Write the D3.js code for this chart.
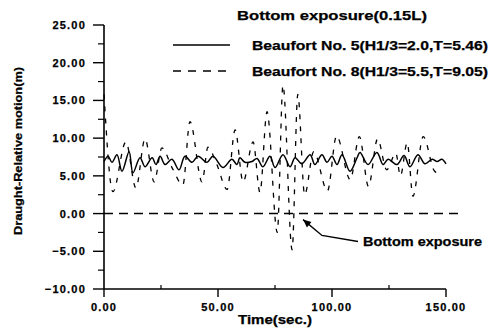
<!DOCTYPE html>
<html>
<head>
<meta charset="utf-8">
<script src="https://cdn.jsdelivr.net/npm/d3@7"></script>
<style>
  body { margin: 0; background: #fff; }
  svg text { font-family: "Liberation Sans", Arial, sans-serif; font-weight: bold; fill: #000; stroke: #000; stroke-width: 0.25; }
</style>
</head>
<body>
<svg width="501" height="330"></svg>
<script>
// series (time in sec, value in m)
var solidT = [0, 1.8, 3.5, 5.7, 7.9, 11.0, 12.7, 15.8, 18.0, 21.1, 22.8, 24.6, 26.8, 29.8, 32.9, 35.5,
  38.6, 41.2, 45.2, 47.8, 52.2, 56.1, 58.3, 59.6, 61.8, 64.9, 67.1, 69.7, 72.8, 75.0, 78.5, 81.6,
  83.8, 86.8, 90.4, 92.5, 95.6, 97.8, 100.0, 102.2, 104.4, 107.9, 111.0, 112.3, 115.8, 119.7, 122.4,
  124.6, 128.5, 131.6, 134.2, 137.7, 140.8, 143.9, 146.1, 148.2, 150.0];
var solidV = [6.9, 7.6, 6.8, 7.8, 5.6, 8.2, 5.4, 7.4, 6.2, 7.4, 6.5, 7.6, 6.5, 7.2, 5.8, 7.6,
  6.8, 7.6, 6.8, 7.6, 6.1, 7.2, 6.5, 7.4, 6.8, 6.9, 7.3, 6.2, 7.6, 6.1, 7.8, 6.2,
  7.4, 6.6, 7.8, 6.5, 7.8, 6.8, 7.6, 6.5, 7.8, 5.6, 7.4, 8.1, 6.5, 8.1, 6.5,
  7.2, 6.5, 7.7, 6.2, 7.8, 6.6, 7.2, 6.9, 7.2, 6.6];

var dashT = [0, 3.9, 9.6, 14, 18, 22, 25.4, 30, 34.6, 37.7, 43, 45.6, 49.5, 54, 57.5, 61, 65.4,
  68.4, 71.5, 76, 78.5, 82.5, 85, 88, 92, 98, 102, 108, 112, 116, 120, 124, 128, 130, 133, 135.5,
  140, 145, 148];
var dashV = [15.8, 2.9, 9.5, 3.4, 9.9, 4.2, 8.7, 6.0, 3.8, 12.2, 4.2, 8.8, 6.5, 3.2, 11.1, 4.2, 9.5,
  2.8, 13.5, -2.5, 17.0, -4.8, 15.8, 2.5, 8.2, 3.0, 10.3, 4.5, 10.2, 3.6, 9.9, 5.8, 8.0, 5.0, 9.4, 2.3,
  10.2, 5.6, 5.2];

// bottom exposure reference line and arrow
var exposureT = [0, 157.5];
var exposureV = [0, 0];
var arrowT = [111.4, 95.6, 87.3];
var arrowV = [-3.7, -2.9, -0.8];

var xTicks = [0, 50, 100, 150];
var xMinor = [25, 75, 125];
var yTicks = [-10, -5, 0, 5, 10, 15, 20, 25];
var yMinor = [-7.5, -2.5, 2.5, 7.5, 12.5, 17.5, 22.5];

var titleText = "Bottom exposure(0.15L)";
var legendNames = ["Beaufort No. 5(H1/3=2.0,T=5.46)", "Beaufort No. 8(H1/3=5.5,T=9.05)"];

var svg = d3.select("svg");

var x = d3.scaleLinear().domain([0, 150]).range([104, 446]);
var y = d3.scaleLinear().domain([-10, 25]).range([289, 25]);
var fmt = d3.format(".2f");

// axes
svg.append("line").attr("x1", 104).attr("x2", 104).attr("y1", y(25)).attr("y2", y(-10))
  .attr("stroke", "#000").attr("stroke-width", 1.6);
svg.append("line").attr("x1", x(0)).attr("x2", x(150)).attr("y1", 289).attr("y2", 289)
  .attr("stroke", "#000").attr("stroke-width", 1.6);

svg.selectAll(".ytick").data(yTicks).enter().append("line")
  .attr("x1", 93).attr("x2", 104).attr("y1", y).attr("y2", y)
  .attr("stroke", "#000").attr("stroke-width", 1.4);
svg.selectAll(".yminor").data(yMinor).enter().append("line")
  .attr("x1", 98).attr("x2", 104).attr("y1", y).attr("y2", y)
  .attr("stroke", "#000").attr("stroke-width", 1.2);
svg.selectAll(".ylab").data(yTicks).enter().append("text")
  .attr("x", 86).attr("y", function(d) { return y(d) + 4; })
  .attr("text-anchor", "end").attr("font-size", 11).attr("letter-spacing", 1.2)
  .text(fmt);

svg.selectAll(".xtick").data(xTicks).enter().append("line")
  .attr("x1", x).attr("x2", x).attr("y1", 289).attr("y2", 297)
  .attr("stroke", "#000").attr("stroke-width", 1.4);
svg.selectAll(".xminor").data(xMinor).enter().append("line")
  .attr("x1", x).attr("x2", x).attr("y1", 285).attr("y2", 289)
  .attr("stroke", "#000").attr("stroke-width", 1.2);
svg.selectAll(".xlab").data(xTicks).enter().append("text")
  .attr("x", x).attr("y", 311)
  .attr("text-anchor", "middle").attr("font-size", 11).attr("letter-spacing", 1.2)
  .text(fmt);

svg.append("text").attr("x", 275).attr("y", 324).attr("text-anchor", "middle")
  .attr("font-size", 12).attr("textLength", 74).attr("lengthAdjust", "spacingAndGlyphs")
  .text("Time(sec.)");
svg.append("text").attr("transform", "translate(22,151) rotate(-90)")
  .attr("text-anchor", "middle").attr("font-size", 11)
  .attr("textLength", 168).attr("lengthAdjust", "spacingAndGlyphs")
  .text("Draught-Relative motion(m)");

// series
function lineWith(curve) {
  return d3.line().x(function(d) { return x(d[0]); }).y(function(d) { return y(d[1]); }).curve(curve);
}

svg.append("path").datum(d3.zip(exposureT, exposureV))
  .attr("d", lineWith(d3.curveLinear))
  .attr("fill", "none").attr("stroke", "#000").attr("stroke-width", 1.6)
  .attr("stroke-dasharray", "9,6");

svg.append("path").datum(d3.zip(dashT, dashV))
  .attr("d", lineWith(d3.curveMonotoneX)).attr("fill", "none").attr("stroke", "#000")
  .attr("stroke-width", 1.3).attr("stroke-dasharray", "5,7");

svg.append("path").datum(d3.zip(solidT, solidV))
  .attr("d", lineWith(d3.curveCatmullRom)).attr("fill", "none").attr("stroke", "#000")
  .attr("stroke-width", 1.5);

// title and legend
svg.append("text").attr("x", 237).attr("y", 20).attr("font-size", 13)
  .attr("textLength", 190).attr("lengthAdjust", "spacingAndGlyphs").text(titleText);

var legend = svg.selectAll(".legend").data(legendNames).enter().append("g")
  .attr("transform", function(d, i) { return "translate(0," + (45 + i * 26) + ")"; });
legend.append("line").attr("x1", 173).attr("x2", 230).attr("y1", 0).attr("y2", 0)
  .attr("stroke", "#000").attr("stroke-width", 1.3)
  .attr("stroke-dasharray", function(d, i) { return i ? "8,7" : null; });
legend.append("text").attr("x", 252).attr("y", 4.5).attr("font-size", 13)
  .attr("textLength", 236).attr("lengthAdjust", "spacingAndGlyphs")
  .text(function(d) { return d; });

// annotation arrow
var ap = d3.zip(arrowT, arrowV).map(function(d) { return [x(d[0]), y(d[1])]; });
svg.append("path").attr("d", d3.line()(ap))
  .attr("fill", "none").attr("stroke", "#000").attr("stroke-width", 1.4);
var tip = ap[2], prev = ap[1];
var ang = Math.atan2(tip[1] - prev[1], tip[0] - prev[0]);
var hl = 8, hw = 3.5;
var head = [
  tip,
  [tip[0] - hl * Math.cos(ang) + hw * Math.sin(ang), tip[1] - hl * Math.sin(ang) - hw * Math.cos(ang)],
  [tip[0] - hl * Math.cos(ang) - hw * Math.sin(ang), tip[1] - hl * Math.sin(ang) + hw * Math.cos(ang)]
];
svg.append("path").attr("d", d3.line()(head) + "Z").attr("fill", "#000");
svg.append("text").attr("x", ap[0][0] + 5).attr("y", ap[0][1] + 4.5).attr("font-size", 12)
  .attr("textLength", 119).attr("lengthAdjust", "spacingAndGlyphs").text("Bottom exposure");
</script>
</body>
</html>
